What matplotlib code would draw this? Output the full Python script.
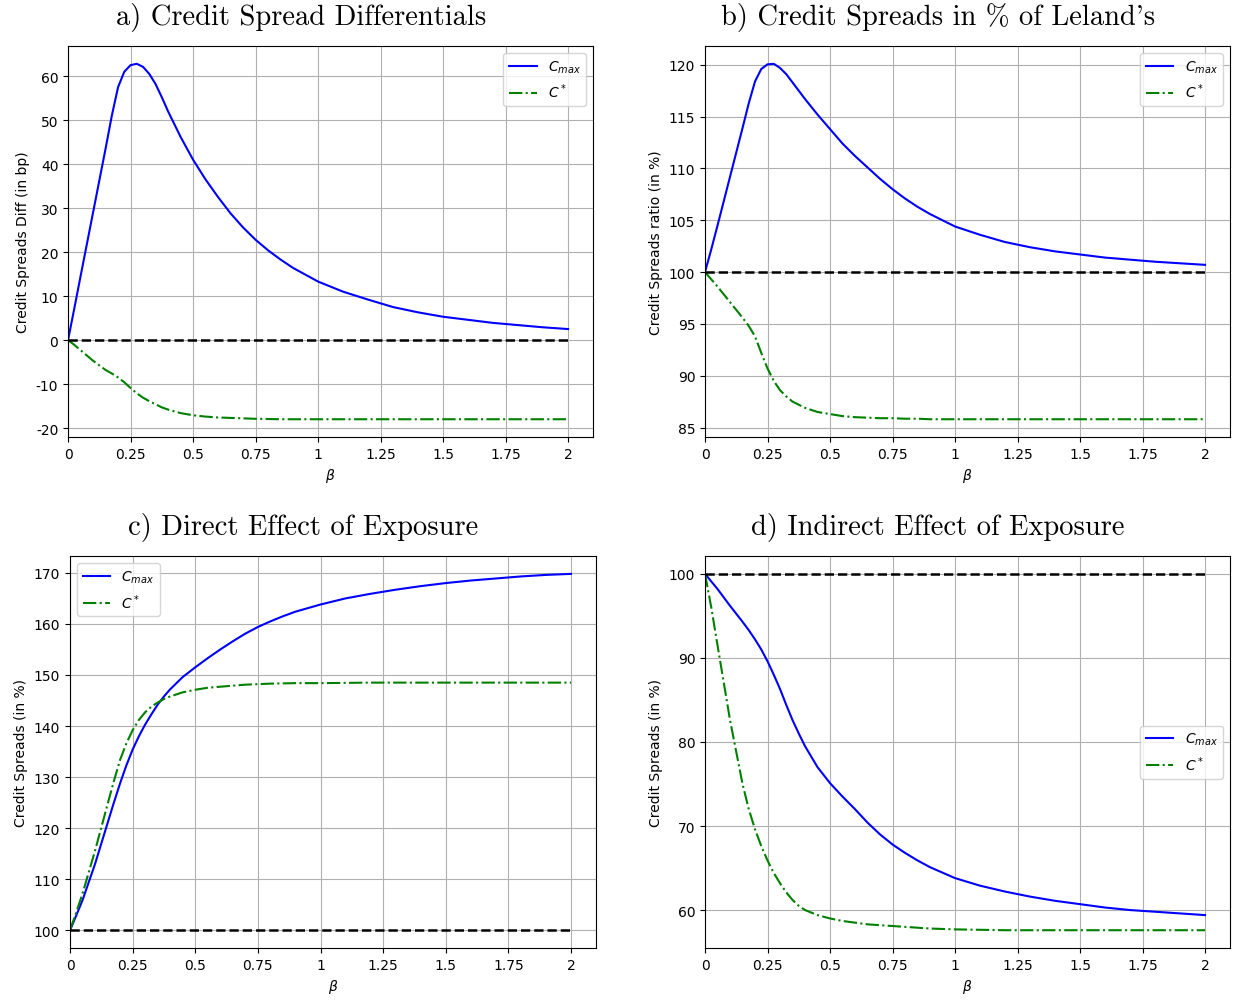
"""
Credit spread panels: differentials, ratio to Leland, direct and indirect
effect of exposure, all as a function of beta.
"""

import matplotlib
matplotlib.use("Agg")
import matplotlib.pyplot as plt
from matplotlib.ticker import FormatStrFormatter

plt.rcParams["axes.unicode_minus"] = False

# ---------------------------------------------------------------------------
# Data
# ---------------------------------------------------------------------------

beta = [0, 0.025, 0.05, 0.1, 0.15, 0.175, 0.2, 0.225, 0.25,
        0.275, 0.3, 0.325, 0.35, 0.375, 0.4, 0.45, 0.5, 0.55,
        0.6, 0.65, 0.7, 0.75, 0.8, 0.85, 0.9, 1.0, 1.1,
        1.2, 1.3, 1.4, 1.5, 1.6, 1.7, 1.8, 1.9, 2.0]

# a) credit spread differentials (bp)
diff_cmax = [0, 7.2, 14.5, 29, 43.5, 51, 57.5, 61, 62.5,
             62.8, 62.1, 60.5, 58.2, 55.2, 52.0, 46.2, 41, 36.5,
             32.5, 28.8, 25.6, 22.8, 20.4, 18.3, 16.4, 13.3, 11,
             9.2, 7.5, 6.3, 5.3, 4.6, 3.9, 3.4, 2.9, 2.5]
diff_cstar = [0, -1.1, -2.3, -4.7, -6.8, -7.6, -8.5, -9.6, -10.9,
              -12.1, -13.1, -13.9, -14.6, -15.3, -15.8, -16.6, -17.1, -17.4,
              -17.6, -17.7, -17.8, -17.9, -17.95, -18, -18, -18, -18,
              -18, -18, -18, -18, -18, -18, -18, -18, -18]

# b) credit spreads in % of Leland's
ratio_cmax = [100, 102.2, 104.5, 109.2, 113.9, 116.3, 118.4, 119.6, 120.05,
              120.1, 119.7, 119.1, 118.3, 117.5, 116.7, 115.2, 113.8, 112.4,
              111.2, 110.1, 109.0, 108.0, 107.1, 106.3, 105.6, 104.4, 103.6,
              102.9, 102.4, 102.0, 101.7, 101.4, 101.2, 101.0, 100.85, 100.7]
ratio_cstar = [100, 99.3, 98.6, 97.1, 95.6, 94.8, 93.8, 92.2, 90.7,
               89.5, 88.6, 88, 87.5, 87.2, 86.9, 86.5, 86.3, 86.1,
               86.0, 85.95, 85.9, 85.9, 85.85, 85.85, 85.8, 85.8, 85.8,
               85.8, 85.8, 85.8, 85.8, 85.8, 85.8, 85.8, 85.8, 85.8]

# c) direct effect of exposure (%)
direct_cmax = [100, 102.9, 105.9, 113, 121, 125, 128.8, 132.3, 135.4,
               138, 140.3, 142.3, 144.2, 145.8, 147.2, 149.6, 151.5, 153.3,
               155, 156.6, 158.1, 159.4, 160.5, 161.5, 162.4, 163.8, 165,
               165.9, 166.7, 167.4, 168, 168.5, 168.9, 169.3, 169.6, 169.8]
direct_cstar = [100, 103.5, 107.2, 115.6, 124.7, 129.2, 133.4, 136.6, 139.2,
                141.2, 142.7, 143.8, 144.6, 145.3, 145.8, 146.6, 147.1, 147.5,
                147.7, 147.9, 148.1, 148.2, 148.3, 148.35, 148.4, 148.4, 148.45,
                148.5, 148.5, 148.5, 148.5, 148.5, 148.5, 148.5, 148.5, 148.5]

# d) indirect effect of exposure (%)
indirect_cmax = [100, 99.1, 98.2, 96.2, 94.3, 93.3, 92.2, 91, 89.6,
                 88, 86.3, 84.4, 82.6, 81, 79.5, 77, 75.1, 73.5,
                 72, 70.4, 69.0, 67.8, 66.8, 65.9, 65.1, 63.8, 62.9,
                 62.2, 61.6, 61.1, 60.7, 60.3, 60.0, 59.8, 59.6, 59.4]
indirect_cstar = [100, 96, 91.5, 82.6, 75, 72, 69.6, 67.6, 65.9,
                  64.4, 63.2, 62.1, 61.2, 60.5, 60.0, 59.4, 59.0, 58.7,
                  58.5, 58.3, 58.2, 58.1, 58.0, 57.9, 57.8, 57.7, 57.65,
                  57.6, 57.6, 57.6, 57.6, 57.6, 57.6, 57.6, 57.6, 57.6]

ref_beta = [0, 2]
beta_ticks = [0, 0.25, 0.5, 0.75, 1, 1.25, 1.5, 1.75, 2]

panels = [
    ("a) Credit Spread Differentials", "Credit Spreads Diff (in bp)",
     diff_cmax, diff_cstar, 0, "upper right"),
    ("b) Credit Spreads in % of Leland's", "Credit Spreads ratio (in %)",
     ratio_cmax, ratio_cstar, 100, "upper right"),
    ("c) Direct Effect of Exposure", "Credit Spreads (in %)",
     direct_cmax, direct_cstar, 100, "upper left"),
    ("d) Indirect Effect of Exposure", "Credit Spreads (in %)",
     indirect_cmax, indirect_cstar, 100, "center right"),
]

# axes boxes in figure fractions (left, bottom, width, height)
boxes = [
    (0.0552, 0.5633, 0.4258, 0.3898),
    (0.5718, 0.5633, 0.4258, 0.3898),
    (0.0568, 0.0538, 0.4266, 0.3908),
    (0.5718, 0.0538, 0.4258, 0.3908),
]

fig = plt.figure(figsize=(12.33, 10.03), dpi=100)

for (title, ylabel, cmax, cstar, ref, loc), box in zip(panels, boxes):
    ax = fig.add_axes(box)
    ax.plot(beta, cmax, color="blue", linewidth=1.5, label=r"$C_{max}$")
    ax.plot(beta, cstar, color="green", linestyle="-.", linewidth=1.5,
            label=r"$C^*$")
    ax.plot(ref_beta, [ref, ref], color="black", linestyle="--", linewidth=1.8)
    ax.set_xlim(0, 2.1)
    ax.set_xticks(beta_ticks)
    ax.xaxis.set_major_formatter(FormatStrFormatter("%g"))
    ax.set_xlabel(r"$\beta$")
    ax.set_ylabel(ylabel)
    # titles sit a little left of the axes centre in the original
    ax.set_title(title, family=["cmr10", "DejaVu Serif"], fontsize=20.5,
                 pad=16, x=0.443)
    ax.grid(True)
    ax.legend(loc=loc)

fig.savefig("out.png", dpi=100)
